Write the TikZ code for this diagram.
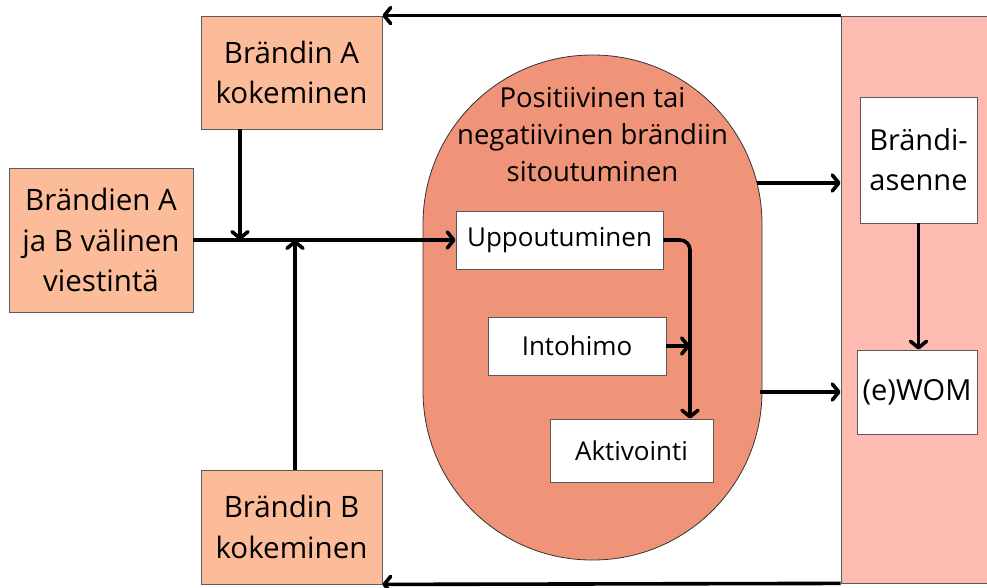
\documentclass[tikz,border=0pt]{standalone}
\usepackage{fontspec}
\setmainfont{Open Sans}
\usetikzlibrary{arrows.meta}
\definecolor{peach}{RGB}{252,188,153}
\definecolor{salmon}{RGB}{239,148,120}
\definecolor{pinkpanel}{RGB}{254,187,178}
\definecolor{edge}{RGB}{90,90,90}
\begin{document}
\begin{tikzpicture}[x=1pt,y=-1pt,
  box/.style={draw=edge, line width=0.8pt, fill=peach, align=center, inner sep=0pt,
    font=\fontsize{29.5}{40.5}\selectfont},
  wbox/.style={draw=edge, line width=0.8pt, fill=white, align=center, inner sep=0pt,
    font=\fontsize{26}{34}\selectfont},
  rbox/.style={draw=edge, line width=0.8pt, fill=white, align=center, inner sep=0pt,
    font=\fontsize{29}{40}\selectfont},
  arr/.style={line width=3.6pt, -{Straight Barb[round,length=6.5pt,width=16pt]}},
  ln/.style={line width=3.6pt}]
\useasboundingbox (0,0) rectangle (987,587);
% right panel
\node[draw=edge, line width=0.8pt, fill=pinkpanel, minimum width=149pt, minimum height=567pt, inner sep=0pt] (panel) at (915.5,299.5) {};
% stadium
\node[draw=black!80, line width=0.8pt, fill=salmon, minimum width=339pt, minimum height=505pt, inner sep=0pt, rounded corners=169pt] (st) at (592.5,307.5) {};
\node[align=center, font=\fontsize{27.5}{37}\selectfont] (sttxt) at (592.5,135) {Positiivinen tai\\negatiivinen brändiin\\sitoutuminen};
% boxes
\node[box, minimum width=181pt, minimum height=113pt] (A) at (291.5,72.5) {Brändin A\\kokeminen};
\node[box, minimum width=184pt, minimum height=144pt] (C) at (101,240) {Brändien A\\ja B välinen\\viestintä};
\node[box, minimum width=181pt, minimum height=114pt] (B) at (291.5,527) {Brändin B\\kokeminen};
\node[wbox, minimum width=207pt, minimum height=58pt] (U) at (559.5,240) {Uppoutuminen};
\node[wbox, minimum width=178pt, minimum height=58pt] (I) at (577,346) {Intohimo};
\node[wbox, minimum width=163pt, minimum height=63pt] (K) at (631.5,450.5) {Aktivointi};
\node[rbox, minimum width=117pt, minimum height=126pt] (Br) at (918.5,160) {Brändi-\\asenne};
\node[rbox, minimum width=120pt, minimum height=84pt] (W) at (917,392) {(e)WOM};
% junction coordinates
\coordinate (jA) at (240,240);
\coordinate (jB) at (295,240);
\coordinate (jK) at (690,240);
\coordinate (s1) at (757,183);
\coordinate (s2) at (760,392);
% connectors
\draw[arr] (C.east) -- (U.west);
\draw[arr] (A.south -| jA) -- (jA);
\draw[arr] (B.north -| jB) -- (jB);
\draw[arr, rounded corners=10pt] (U.east) -- (jK) -- (jK |- K.north);
\draw[arr] (I.east) -- (jK |- I.east);
\draw[arr] (s1) -- (panel.west |- s1);
\draw[arr] (s2) -- (panel.west |- s2);
\draw[arr] (Br.south) -- (Br.south |- W.north);
\draw[arr] (panel.north west) -- (A.north east);
\draw[arr] (panel.south west) -- (B.south east);
\end{tikzpicture}
\end{document}
